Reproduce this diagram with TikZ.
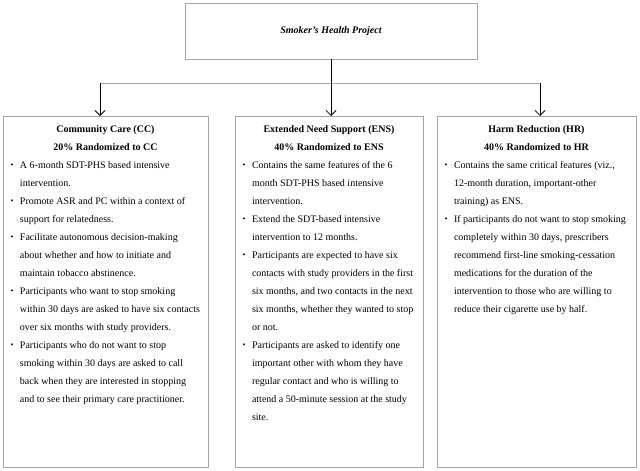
\documentclass[tikz,border=0pt]{standalone}
\usepackage{fontspec}
\setmainfont{Liberation Serif}
\usetikzlibrary{arrows.meta}
\definecolor{boxgray}{HTML}{A4A4A4}
\newcommand\colheadA[1]{\hbox to \hsize{\rule{0pt}{13pt}\hss\bfseries #1\hss}}
\newcommand\colhead[1]{\hbox to \hsize{\hss\bfseries #1\hss}}
\newcommand\smallbullet{\raisebox{0.6pt}{\fontsize{8}{8}\selectfont\textbullet}}
\newcommand\bitem[1]{\hbox{\hskip8pt\llap{\smallbullet\hskip6.5pt}#1}}
\newcommand\bline[1]{\hbox{\hskip8pt #1}}
\tikzset{
  colbox/.style={draw=boxgray, line width=0.9pt, minimum height=351pt, inner sep=0pt, outer sep=0pt},
  topbox/.style={draw=boxgray, line width=0.9pt, minimum width=292pt, minimum height=56pt, inner sep=0pt, outer sep=0pt, font=\fontsize{10}{12}\selectfont\bfseries\itshape},
  txt/.style={anchor=north west, inner sep=0pt, outer sep=0pt, font=\fontsize{10}{18}\selectfont},
  conn/.style={draw=boxgray, line width=0.9pt},
  arr/.style={draw=black, line width=0.8pt, -{Straight Barb[length=5pt,width=10pt]}}
}
\begin{document}
\begin{tikzpicture}[x=1pt,y=-1pt]
\useasboundingbox (0,0) rectangle (640,471);
\node[topbox] (top) at (331,31) {\raisebox{-2pt}{Smoker’s Health Project}};
\node[colbox, minimum width=205pt] (cc) at (105.5,291.5) {};
\node[colbox, minimum width=188pt] (ens) at (329,291.5) {};
\node[colbox, minimum width=199pt] (hr) at (536.5,291.5) {};
\coordinate (jl) at (100,83);
\coordinate (jr) at (540,83);
\draw[conn] (jl) -- (jr);
\draw[arr] (jl) -- (jl |- cc.north);
\draw[arr] (top.south) -- (top.south |- ens.north);
\draw[arr] (jr) -- (jr |- hr.north);
\node[txt] (cct) at (12,119.5) {\vbox{\hsize=187pt\baselineskip=18pt\lineskiplimit=-50pt
  \colheadA{Community Care (CC)}
  \colhead{20\% Randomized to CC}
  \bitem{A 6-month SDT-PHS based intensive}
  \bline{intervention.}
  \bitem{Promote ASR and PC within a context of}
  \bline{support for relatedness.}
  \bitem{Facilitate autonomous decision-making}
  \bline{about whether and how to initiate and}
  \bline{maintain tobacco abstinence.}
  \bitem{Participants who want to stop smoking}
  \bline{within 30 days are asked to have six contacts}
  \bline{over six months with study providers.}
  \bitem{Participants who do not want to stop}
  \bline{smoking within 30 days are asked to call}
  \bline{back when they are interested in stopping}
  \bline{and to see their primary care practitioner.}}};
\node[txt] (enst) at (244,119.5) {\vbox{\hsize=170pt\baselineskip=18pt\lineskiplimit=-50pt
  \colheadA{Extended Need Support (ENS)}
  \colhead{40\% Randomized to ENS}
  \bitem{Contains the same features of the 6}
  \bline{month SDT-PHS based intensive}
  \bline{intervention.}
  \bitem{Extend the SDT-based intensive}
  \bline{intervention to 12 months.}
  \bitem{Participants are expected to have six}
  \bline{contacts with study providers in the first}
  \bline{six months, and two contacts in the next}
  \bline{six months, whether they wanted to stop}
  \bline{or not.}
  \bitem{Participants are asked to identify one}
  \bline{important other with whom they have}
  \bline{regular contact and who is willing to}
  \bline{attend a 50-minute session at the study}
  \bline{site.}}};
\node[txt] (hrt) at (446,119.5) {\vbox{\hsize=181pt\baselineskip=18pt\lineskiplimit=-50pt
  \colheadA{Harm Reduction (HR)}
  \colhead{40\% Randomized to HR}
  \bitem{Contains the same critical features (viz.,}
  \bline{12-month duration, important-other}
  \bline{training) as ENS.}
  \bitem{If participants do not want to stop smoking}
  \bline{completely within 30 days, prescribers}
  \bline{recommend first-line smoking-cessation}
  \bline{medications for the duration of the}
  \bline{intervention to those who are willing to}
  \bline{reduce their cigarette use by half.}}};
\end{tikzpicture}
\end{document}
